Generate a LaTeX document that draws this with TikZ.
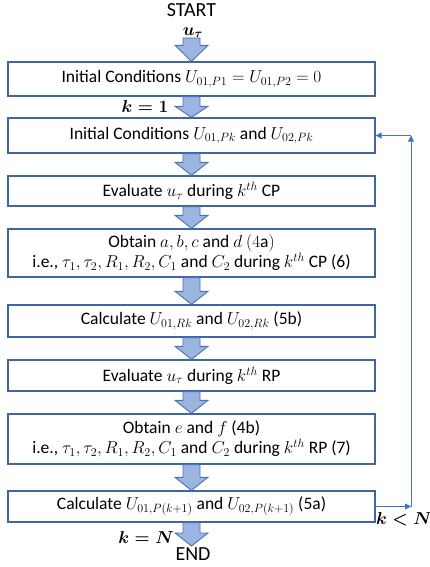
\documentclass[tikz,border=0pt]{standalone}
\usepackage{amsmath}
\usepackage{fontspec}
\setmainfont{Carlito}
\usetikzlibrary{calc,arrows.meta}
\definecolor{boxline}{HTML}{41669E}
\definecolor{arrfill}{HTML}{9BB5E0}
\definecolor{arrline}{HTML}{4A72B8}
\definecolor{fbline}{HTML}{4472C4}
\tikzset{
 stepbox/.style={draw=boxline, line width=1.3pt, fill=white, minimum width=367pt, inner sep=0pt, align=center, font=\fontsize{17.5}{20}\selectfont},
 blockarrow/.style={draw=arrline, fill=arrfill, line width=0.9pt, line join=miter,
   to path={let \p1=(\tikztostart), \p2=(\tikztotarget) in
     (\x1-8.5pt,\y1) -- (\x1+8.5pt,\y1) -- (\x1+8.5pt,\y2+#1) -- (\x1+16.5pt,\y2+#1)
     -- (\x1,\y2) -- (\x1-16.5pt,\y2+#1) -- (\x1-8.5pt,\y2+#1) -- cycle}},
 blockarrow/.default=13pt,
 fb/.style={draw=fbline, line width=0.9pt, -{Triangle[length=6pt,width=6pt]}},
 lbl/.style={font=\fontsize{17}{20}\selectfont, inner sep=0pt},
 big/.style={font=\fontsize{20}{24}\selectfont, inner sep=0pt}
}
\begin{document}
\begin{tikzpicture}[x=1pt,y=-1pt]
\useasboundingbox (0,0) rectangle (430,567);
\node[big] (start) at (191.5,10) {START};
\node[lbl] (ut) at (193,32.5) {$\boldsymbol{u_\tau}$};
\coordinate (a0) at (191.5,38);

\node[stepbox, minimum height=34pt] (b1) at (191.5,79) {Initial Conditions $U_{01,P1}=U_{01,P2}=0$};
\node[stepbox, minimum height=35pt] (b2) at (191.5,135.5) {Initial Conditions $U_{01,Pk}$ and $U_{02,Pk}$};
\node[stepbox, minimum height=30pt] (b3) at (191.5,191) {Evaluate $u_\tau$ during $k^{th}$ CP};
\node[stepbox, minimum height=48pt] (b4) at (191.5,253) {Obtain $a,b,c$ and $d$ $(4\mathrm{a})$\\i.e., $\tau_1,\tau_2,R_1,R_2,C_1$ and $C_2$ during $k^{th}$ CP (6)};
\node[stepbox, minimum height=32pt] (b5) at (191.5,321) {Calculate $U_{01,Rk}$ and $U_{02,Rk}$ (5b)};
\node[stepbox, minimum height=31pt] (b6) at (191.5,375.5) {Evaluate $u_\tau$ during $k^{th}$ RP};
\node[stepbox, minimum height=50pt] (b7) at (191.5,439) {Obtain $e$ and $f$ (4b)\\i.e., $\tau_1,\tau_2,R_1,R_2,C_1$ and $C_2$ during $k^{th}$ RP (7)};
\node[stepbox, minimum height=31pt] (b8) at (191.5,506.5) {Calculate $U_{01,P(k+1)}$ and $U_{02,P(k+1)}$ (5a)};

\coordinate (a9) at (191.5,546);
\node[big] (end) at (193,554.5) {END};

\draw[blockarrow=16pt] (a0) to (b1.north);
\draw[blockarrow=11pt] (b1.south) to (b2.north);
\draw[blockarrow] (b2.south) to (b3.north);
\draw[blockarrow] (b3.south) to (b4.north);
\draw[blockarrow] (b4.south) to (b5.north);
\draw[blockarrow] (b5.south) to (b6.north);
\draw[blockarrow] (b6.south) to (b7.north);
\draw[blockarrow] (b7.south) to (b8.north);
\draw[blockarrow] (b8.south) to (a9);

\node[lbl] (k1) at (145,107) {$\boldsymbol{k=1}$};
\node[lbl] (kN) at (146,537) {$\boldsymbol{k=N}$};
\node[lbl] (kl) at (404,519) {$\boldsymbol{k<N}$};

\coordinate (fx) at (411,0);
\coordinate (fb1) at (b8.east -| fx);
\coordinate (fb2) at (b2.east -| fx);
\draw[fb] (b8.east) -- (fb1);
\draw[fb] (fb1) -- (fb2);
\draw[fb] (fb2) -- (b2.east);
\end{tikzpicture}
\end{document}
